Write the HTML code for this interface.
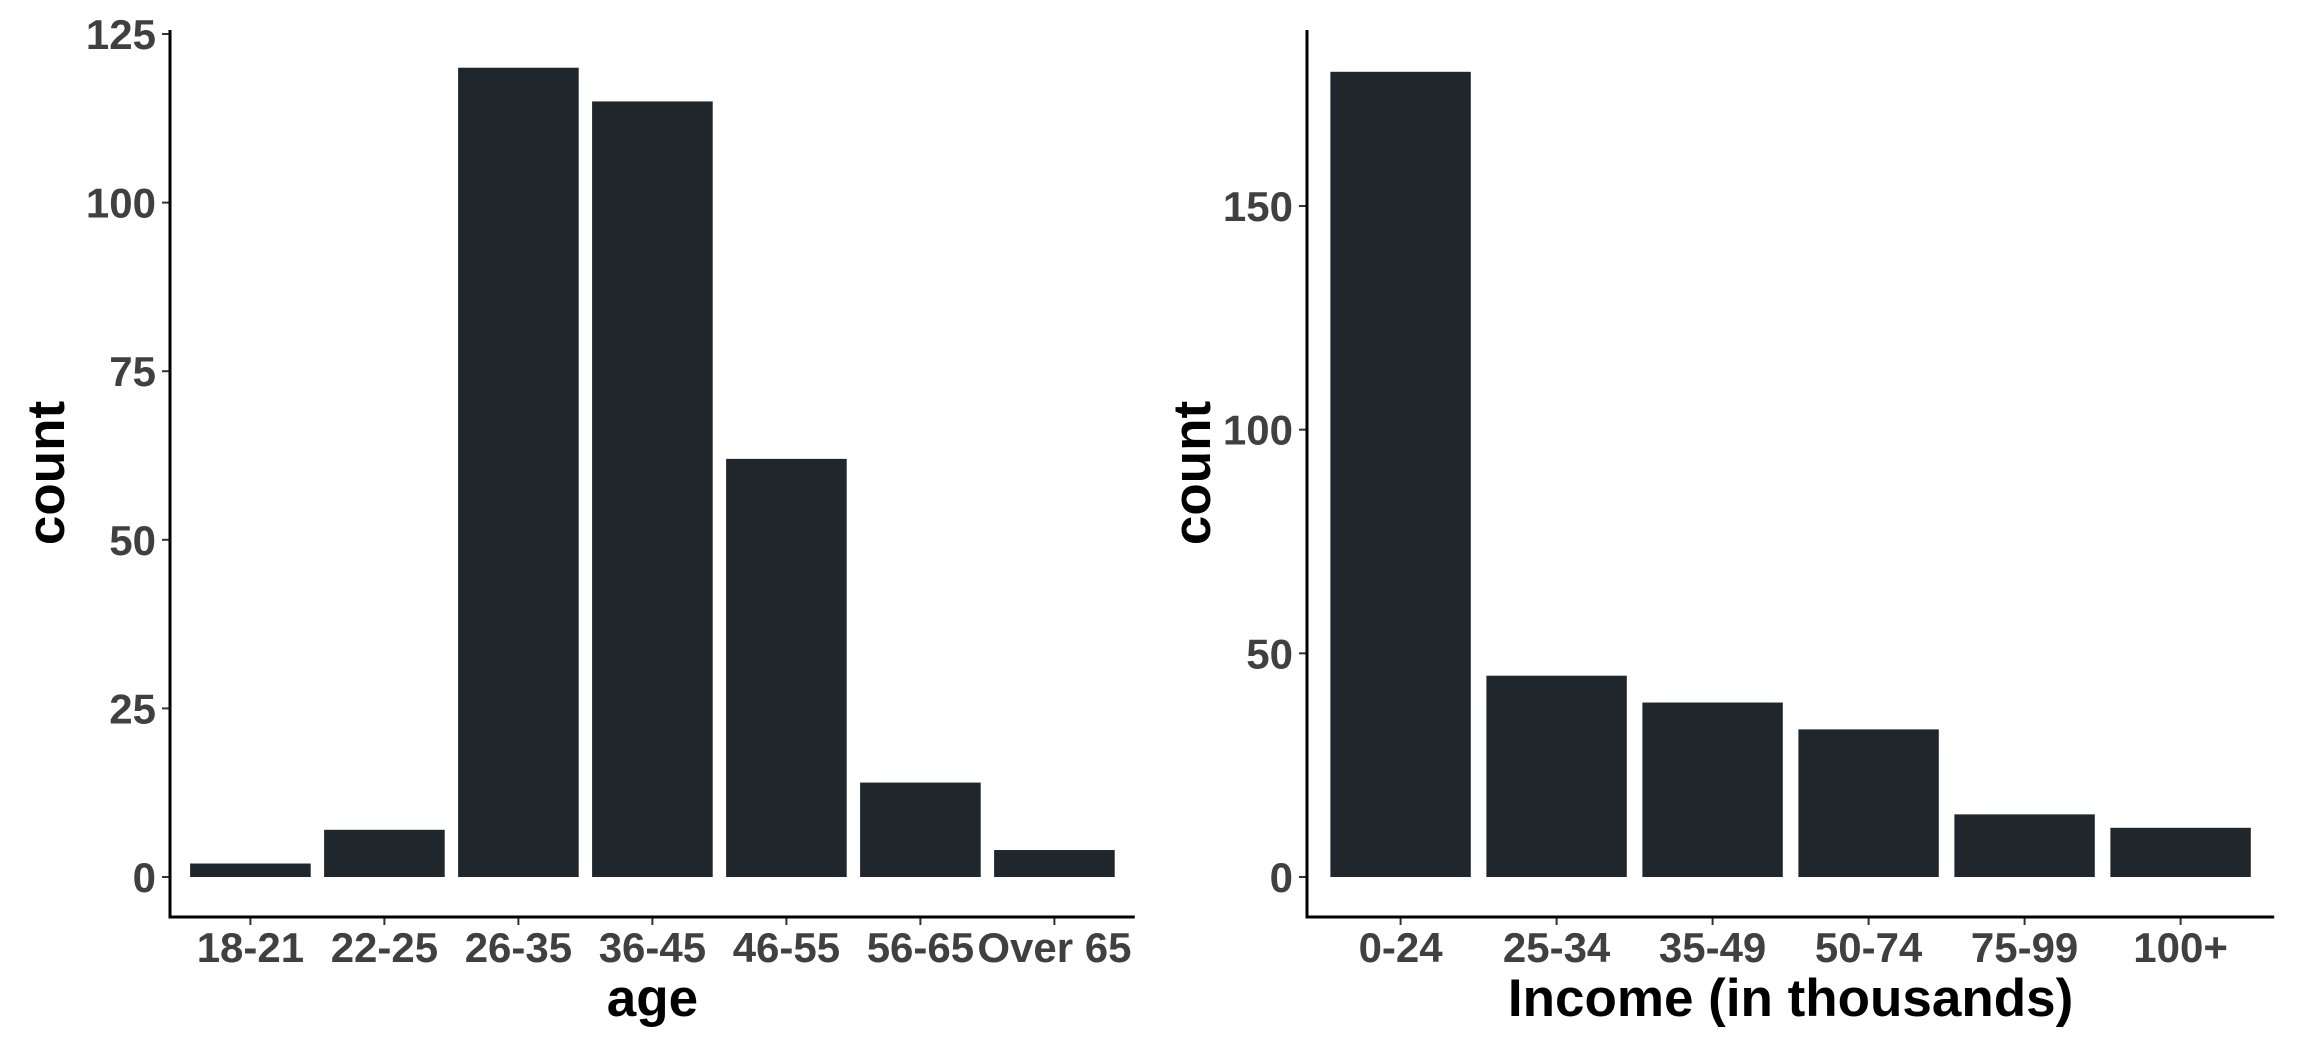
<!DOCTYPE html>
<html><head><meta charset="utf-8"><style>
html,body{margin:0;padding:0;background:#fff;}
svg{display:block;font-family:"Liberation Sans",Arial,sans-serif;font-weight:bold;}
</style></head><body>
<svg id="c" width="2304" height="1056" viewBox="0 0 2304 1056"></svg>
<script>
const ageCats=["18-21","22-25","26-35","36-45","46-55","56-65","Over 65"];
const ageVals=[2,7,120,115,62,14,4];
const ageTicks=[0,25,50,75,100,125];
const incCats=["0-24","25-34","35-49","50-74","75-99","100+"];
const incVals=[180,45,39,33,14,11];
const incTicks=[0,50,100,150];
const NS="http://www.w3.org/2000/svg";
const svg=document.getElementById('c');
function mk(tag,attrs,parent){const e=document.createElementNS(NS,tag);for(const k in attrs)e.setAttribute(k,attrs[k]);(parent||svg).appendChild(e);return e;}
function panel(name,cats,vals,ticks,x0,step,unit,xTitle,yTitleX){
  const g=mk('g',{});
  
  
  const y0=877, axY=917, top=30;
  const xEnd=x0+step*(cats.length-1+1.2);
  const yS=v=>y0-v*unit;
  const xS=i=>x0+step*(0.6+i);
  cats.forEach((c,i)=>{
    const r=mk('rect',{x:xS(i)-step*0.45,y:yS(vals[i]),width:step*0.9,height:vals[i]*unit,fill:'#1f262c'},g);
    
    
    const t=mk('line',{x1:xS(i),x2:xS(i),y1:axY,y2:axY+8,stroke:'#333','stroke-width':2},g);
    
    
    const l=mk('text',{x:xS(i),y:962,'text-anchor':'middle','font-size':42,fill:'#404040'},g);
    l.textContent=c;
    
    
  });
  ticks.forEach(v=>{
    const t=mk('line',{x1:x0-8,x2:x0,y1:yS(v),y2:yS(v),stroke:'#333','stroke-width':2},g);
    
    
    const l=mk('text',{x:x0-14,y:yS(v)+15,'text-anchor':'end','font-size':42,fill:'#404040'},g);
    l.textContent=v;
    
    
  });
  const ya=mk('line',{x1:x0,x2:x0,y1:top,y2:axY+1.5,stroke:'#000','stroke-width':3},g);
  
  
  const xa=mk('line',{x1:x0-1.5,x2:xEnd,y1:axY,y2:axY,stroke:'#000','stroke-width':3},g);
  
  
  const xt=mk('text',{x:(x0+xEnd)/2,y:1016,'text-anchor':'middle','font-size':53,fill:'#000'},g);
  xt.textContent=xTitle;
  
  
  const yt=mk('text',{x:0,y:0,'text-anchor':'middle','font-size':53,fill:'#000',transform:`translate(${yTitleX},473) rotate(-90)`},g);
  yt.textContent='count';
  
  
}
panel('age',ageCats,ageVals,ageTicks,170,134,(877-34)/125,'age',64);
panel('income',incCats,incVals,incTicks,1307,156,(877-206)/150,'Income (in thousands)',1210);
</script>
</body></html>
